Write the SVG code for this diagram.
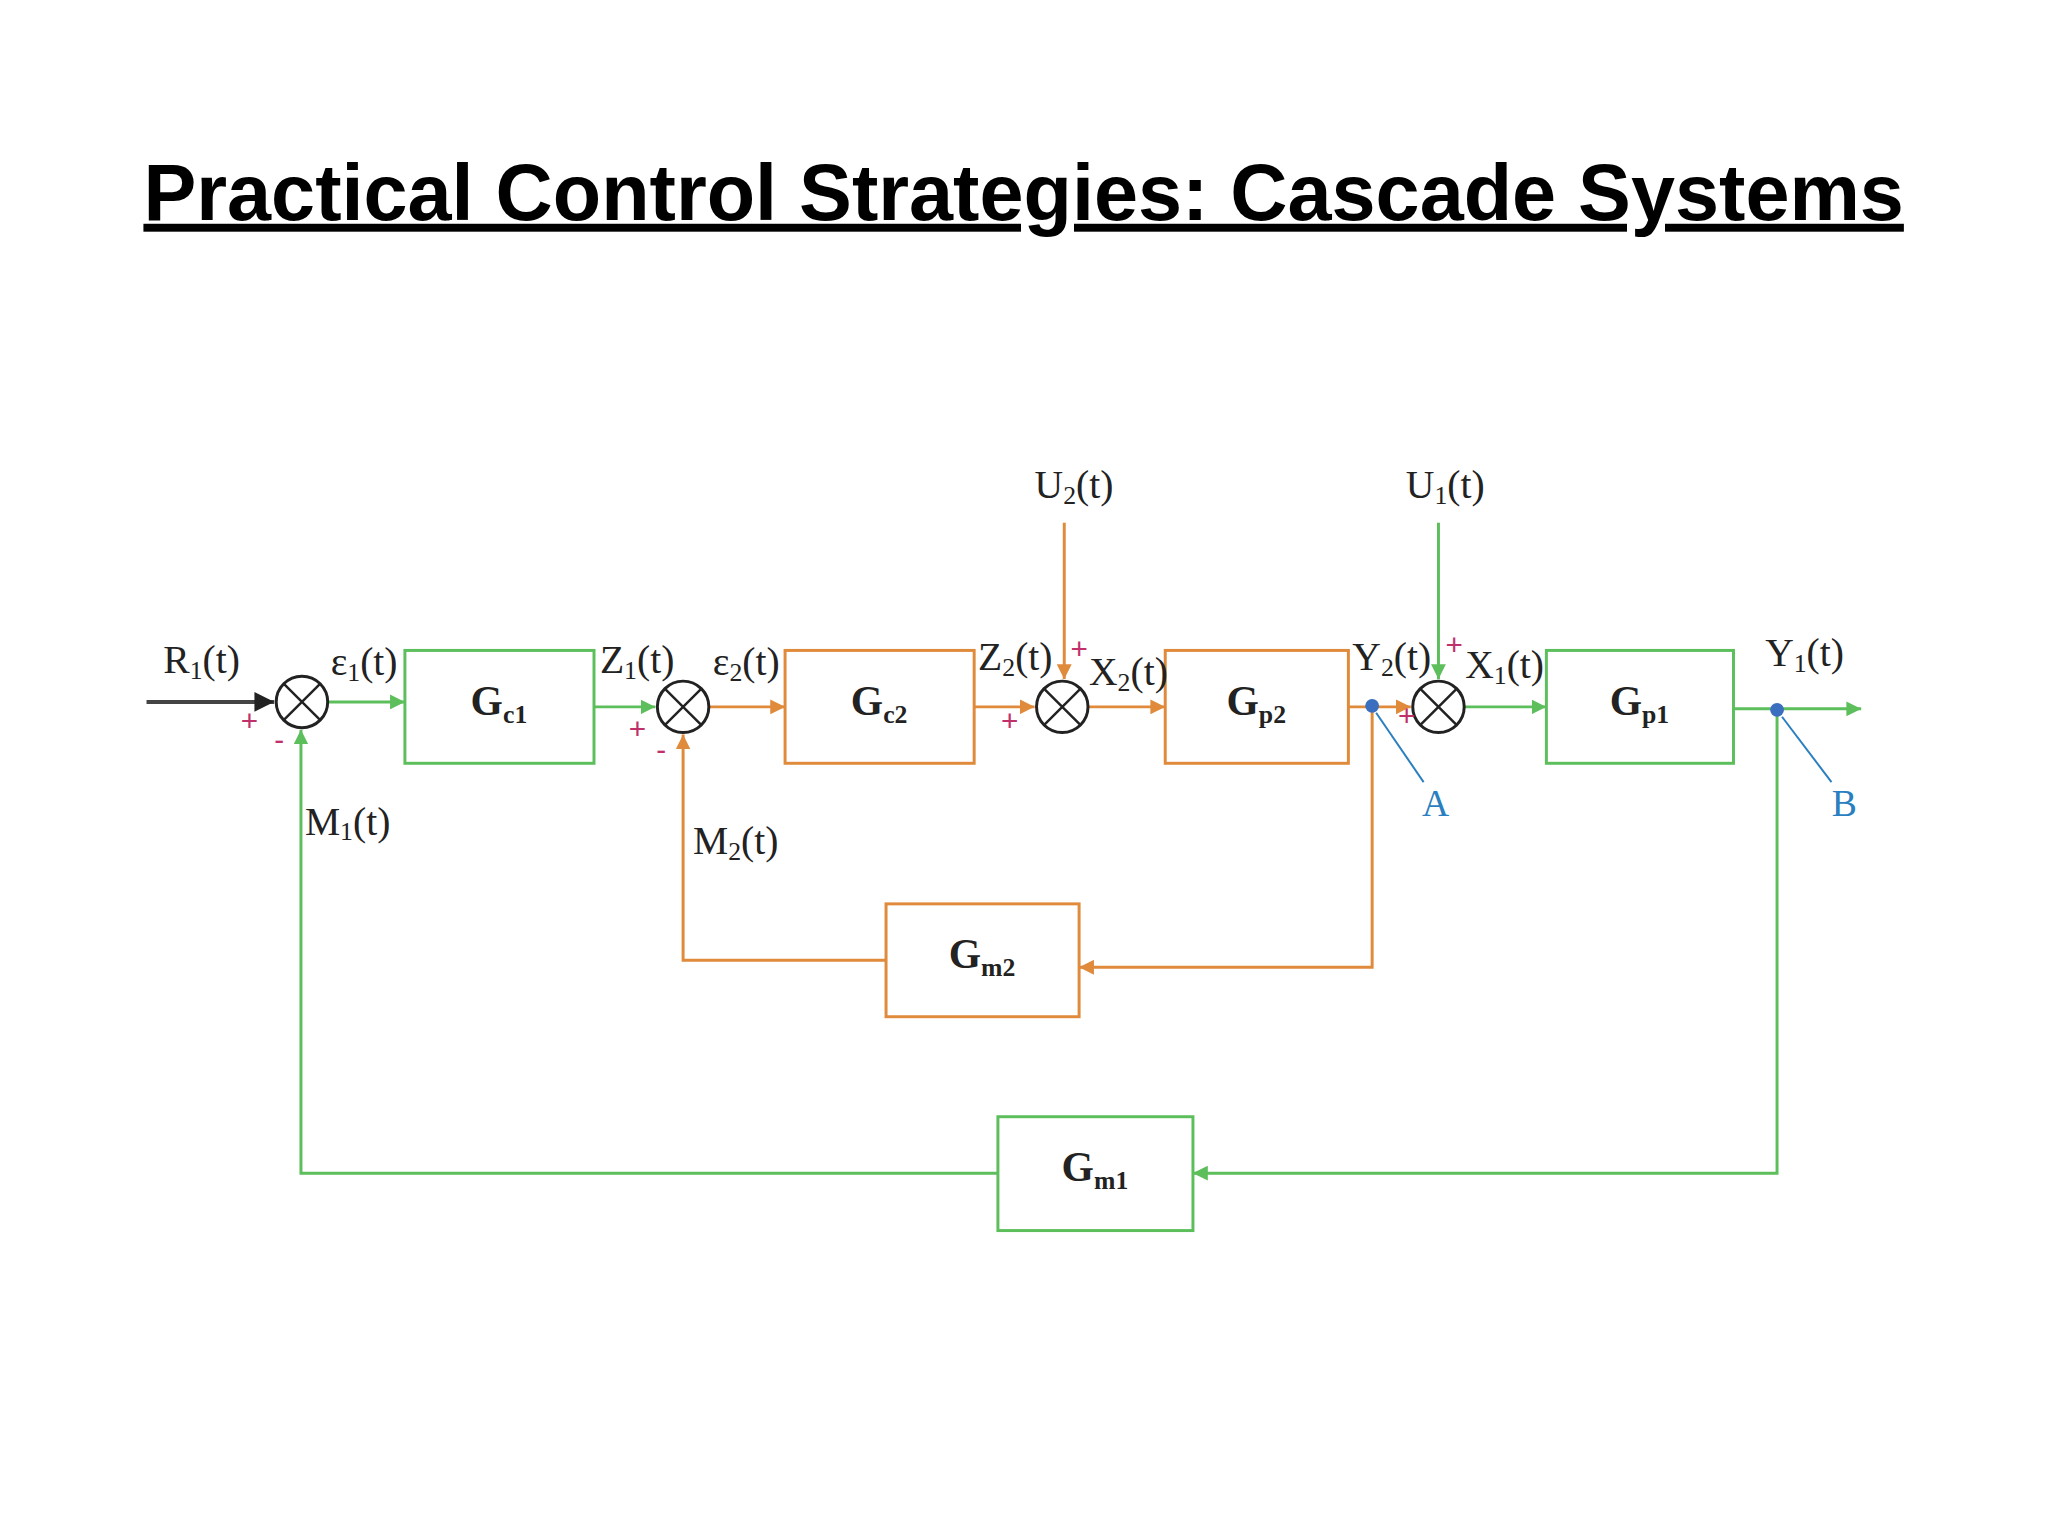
<svg xmlns="http://www.w3.org/2000/svg" width="2048" height="1536" viewBox="0 0 2048 1536">
<defs>
<style>
.t{font-family:"Liberation Serif",serif;font-size:40px;fill:#222}
.b{font-family:"Liberation Serif",serif;font-size:42px;font-weight:bold;fill:#222;text-anchor:middle}
.s{font-size:26px}
.g{stroke:#5cbf5c;stroke-width:3;fill:none}
.o{stroke:#e08a3c;stroke-width:3;fill:none}
.bg{stroke:#5cbf5c;stroke-width:3;fill:#fff}
.bo{stroke:#e08a3c;stroke-width:3;fill:#fff}
.sum{stroke:#222;stroke-width:3;fill:#fff}
.p{font-family:"Liberation Sans",sans-serif;font-size:30px;fill:#c0306a;text-anchor:middle}
.l{font-family:"Liberation Serif",serif;font-size:38px;fill:#2a7fc0;text-anchor:middle}
</style>
<marker id="ag" viewBox="0 0 10 10" refX="10" refY="5" markerWidth="5" markerHeight="5" orient="auto"><path d="M0,0L10,5L0,10z" fill="#5cbf5c"/></marker>
<marker id="ao" viewBox="0 0 10 10" refX="10" refY="5" markerWidth="5" markerHeight="5" orient="auto"><path d="M0,0L10,5L0,10z" fill="#e08a3c"/></marker>
<marker id="ak" viewBox="0 0 10 10" refX="10" refY="5" markerWidth="5" markerHeight="5" orient="auto"><path d="M0,0L10,5L0,10z" fill="#222"/></marker>
</defs>
<rect width="2048" height="1536" fill="#fff"/>
<g transform="scale(0.99)">
<text x="1034" y="222" font-family="Liberation Sans,sans-serif" font-size="80" font-weight="bold" text-anchor="middle" text-decoration="underline" fill="#000">Practical Control Strategies: Cascade Systems</text>

<g id="connectors">
<line x1="148" y1="709" x2="277" y2="709" stroke="#444" stroke-width="4" marker-end="url(#ak)"/>
<line x1="331" y1="709" x2="409" y2="709" class="g" marker-end="url(#ag)"/>
<line x1="600" y1="714" x2="662" y2="714" class="g" marker-end="url(#ag)"/>
<line x1="716" y1="714" x2="793" y2="714" class="o" marker-end="url(#ao)"/>
<line x1="984" y1="714" x2="1045" y2="714" class="o" marker-end="url(#ao)"/>
<line x1="1099" y1="714" x2="1177" y2="714" class="o" marker-end="url(#ao)"/>
<line x1="1362" y1="714" x2="1425" y2="714" class="o" marker-end="url(#ao)"/>
<line x1="1479" y1="714" x2="1562" y2="714" class="g" marker-end="url(#ag)"/>
<line x1="1751" y1="716" x2="1880" y2="716" class="g" marker-end="url(#ag)"/>
<line x1="1075" y1="528" x2="1075" y2="686" class="o" marker-end="url(#ao)"/>
<line x1="1453" y1="528" x2="1453" y2="686" class="g" marker-end="url(#ag)"/>
<polyline points="1386,714 1386,977 1090,977" class="o" marker-end="url(#ao)"/>
<polyline points="895,970 690,970 690,742" class="o" marker-end="url(#ao)"/>
<polyline points="1795,716 1795,1185 1205,1185" class="g" marker-end="url(#ag)"/>
<polyline points="1008,1185 304,1185 304,737" class="g" marker-end="url(#ag)"/>
<line x1="1438" y1="790" x2="1390" y2="720" stroke="#2a7fc0" stroke-width="2"/>
<line x1="1850" y1="790" x2="1800" y2="724" stroke="#2a7fc0" stroke-width="2"/>
<circle cx="1386" cy="713" r="7" fill="#3a6fc0"/>
<circle cx="1795" cy="717" r="7" fill="#3a6fc0"/>
</g>

<g id="sum1"><circle cx="305" cy="709" r="26" class="sum"/><path d="M287,691L323,727M323,691L287,727" stroke="#222" stroke-width="2.5"/></g>
<g id="sum2"><circle cx="690" cy="714" r="26" class="sum"/><path d="M672,696L708,732M708,696L672,732" stroke="#222" stroke-width="2.5"/></g>
<g id="sum3"><circle cx="1073" cy="714" r="26" class="sum"/><path d="M1055,696L1091,732M1091,696L1055,732" stroke="#222" stroke-width="2.5"/></g>
<g id="sum4"><circle cx="1453" cy="714" r="26" class="sum"/><path d="M1435,696L1471,732M1471,696L1435,732" stroke="#222" stroke-width="2.5"/></g>

<g id="Gc1"><rect x="409" y="657" width="191" height="114" class="bg"/><text x="504" y="722" class="b">G<tspan class="s" dy="8">c1</tspan></text></g>
<g id="Gc2"><rect x="793" y="657" width="191" height="114" class="bo"/><text x="888" y="722" class="b">G<tspan class="s" dy="8">c2</tspan></text></g>
<g id="Gp2"><rect x="1177" y="657" width="185" height="114" class="bo"/><text x="1269" y="722" class="b">G<tspan class="s" dy="8">p2</tspan></text></g>
<g id="Gp1"><rect x="1562" y="657" width="189" height="114" class="bg"/><text x="1656" y="722" class="b">G<tspan class="s" dy="8">p1</tspan></text></g>
<g id="Gm2"><rect x="895" y="913" width="195" height="114" class="bo"/><text x="992" y="978" class="b">G<tspan class="s" dy="8">m2</tspan></text></g>
<g id="Gm1"><rect x="1008" y="1128" width="197" height="115" class="bg"/><text x="1106" y="1193" class="b">G<tspan class="s" dy="8">m1</tspan></text></g>

<g id="labels" class="t">
<text x="165" y="680" class="t">R<tspan class="s" dy="6">1</tspan><tspan dy="-6">(t)</tspan></text>
<text x="334" y="682" class="t">ε<tspan class="s" dy="6">1</tspan><tspan dy="-6">(t)</tspan></text>
<text x="606" y="680" class="t">Z<tspan class="s" dy="6">1</tspan><tspan dy="-6">(t)</tspan></text>
<text x="720" y="682" class="t">ε<tspan class="s" dy="6">2</tspan><tspan dy="-6">(t)</tspan></text>
<text x="988" y="677" class="t">Z<tspan class="s" dy="6">2</tspan><tspan dy="-6">(t)</tspan></text>
<text x="1100" y="692" class="t">X<tspan class="s" dy="6">2</tspan><tspan dy="-6">(t)</tspan></text>
<text x="1366" y="677" class="t">Y<tspan class="s" dy="6">2</tspan><tspan dy="-6">(t)</tspan></text>
<text x="1480" y="685" class="t">X<tspan class="s" dy="6">1</tspan><tspan dy="-6">(t)</tspan></text>
<text x="1783" y="673" class="t">Y<tspan class="s" dy="6">1</tspan><tspan dy="-6">(t)</tspan></text>
<text x="1045" y="503" class="t">U<tspan class="s" dy="6">2</tspan><tspan dy="-6">(t)</tspan></text>
<text x="1420" y="503" class="t">U<tspan class="s" dy="6">1</tspan><tspan dy="-6">(t)</tspan></text>
<text x="308" y="843" class="t">M<tspan class="s" dy="6">1</tspan><tspan dy="-6">(t)</tspan></text>
<text x="700" y="863" class="t">M<tspan class="s" dy="6">2</tspan><tspan dy="-6">(t)</tspan></text>
</g>
<g id="signs">
<text x="252" y="738" class="p">+</text><text x="282" y="758" class="p">-</text>
<text x="644" y="746" class="p">+</text><text x="668" y="768" class="p">-</text>
<text x="1020" y="738" class="p">+</text><text x="1090" y="666" class="p">+</text>
<text x="1421" y="733" class="p">+</text><text x="1469" y="662" class="p">+</text>
<text x="1450" y="824" class="l">A</text><text x="1863" y="824" class="l">B</text>
</g>
</g>
</svg>
